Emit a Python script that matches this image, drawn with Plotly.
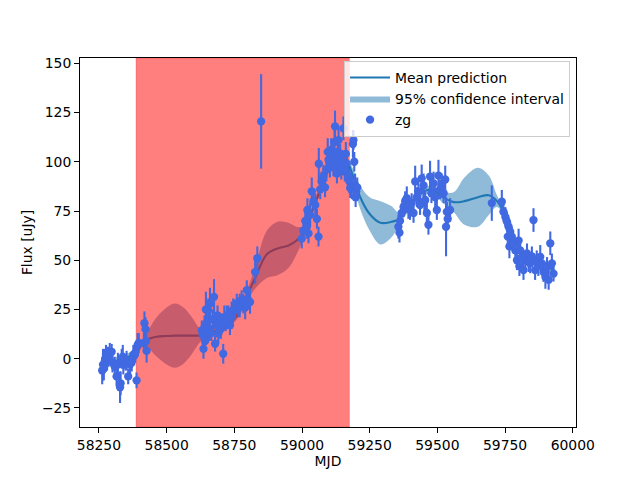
import plotly.graph_objects as go

# ---------------- data ----------------
obs_mjd = [58262, 58265, 58268, 58272, 58276, 58280, 58284, 58290, 58297, 58300,
           58308, 58315, 58320, 58328, 58330, 58334, 58338, 58340, 58348, 58352,
           58358, 58365, 58371, 58377, 58380, 58384, 58389, 58393, 58397, 58416,
           58418, 58422, 58424, 58426,
           58630, 58633, 58636, 58640, 58642, 58645, 58648, 58652, 58654, 58658,
           58660, 58665, 58670, 58675, 58679, 58684, 58688, 58691, 58695, 58700,
           58703, 58709, 58713, 58718, 58722, 58728, 58734, 58740, 58746, 58752,
           58759, 58765, 58770, 58777, 58783, 58790, 58796, 58800, 58808, 58827,
           58835, 58849,
           58999, 59005, 59012, 59018, 59020, 59024, 59030, 59036, 59042, 59049,
           59055, 59061, 59062, 59067, 59072, 59079, 59085, 59090, 59095, 59098,
           59103, 59108, 59112, 59116, 59120, 59122, 59126, 59129, 59132, 59135,
           59138, 59141, 59145, 59148, 59153, 59158, 59162, 59165, 59170, 59175,
           59178, 59184, 59188, 59190, 59193, 59196, 59198, 59200, 59204,
           59356, 59360, 59362, 59368, 59375, 59381, 59387, 59393, 59399, 59405,
           59412, 59418, 59424, 59430, 59436, 59442, 59449, 59452, 59455, 59461,
           59467, 59473, 59478, 59486, 59492, 59498, 59504, 59510, 59516, 59523,
           59529, 59532, 59535, 59538, 59547,
           59701, 59738, 59744, 59751, 59757, 59760, 59763, 59766, 59769, 59775,
           59781, 59788, 59794, 59800, 59803, 59806, 59812, 59818, 59825, 59831,
           59837, 59843, 59849, 59855, 59861, 59867, 59873, 59880, 59886, 59892,
           59899, 59905, 59911, 59917, 59923, 59929]
obs_flux = [-6, -3, -5, -1, 2, 0, 1, 3, 3.5, -2,
            -4, -9, -3, -14.5, -12.5, 0, 1, -3, -2, -1,
            -9, -3, -1.5, 2, 1.5, 3, -11, 7, 8, 8,
            18, 15, 9, 4,
            14.4, 12, 5, 16, 9, 25, 18, 13, 24.6, 15,
            28, 13, 20, 31.4, 7.6, 17, 22, 12.7, 18, 15,
            18, 2.5, 21, 19, 21, 22, 17, 24, 24.6, 25,
            28, 26, 27, 29.7, 28, 26, 34.8, 30, 28.8, 44,
            51, 120.5,
            61, 65, 70, 67, 75.5, 63.6, 73, 85, 80, 78,
            71, 62, 99, 86, 90, 92.5, 87, 96, 105, 101,
            97, 106, 102, 97.6, 110, 118, 100, 94, 105, 111,
            98, 103, 96, 100, 117, 95, 104, 99, 93, 90,
            86.6, 87, 109, 111, 100, 88, 82, 85, 87,
            67, 64, 70, 74, 77, 80, 81.5, 76, 75.5, 79,
            74, 90, 82, 85, 78, 91.6, 88, 80, 80.6, 74,
            68, 92.5, 84, 89, 82, 75.5, 93, 86, 88, 84,
            91, 67, 74.6, 71, 75.5,
            79, 79.7, 74.6, 72, 69.6, 62, 67, 57, 64.5, 62,
            58.6, 55, 50, 60, 47, 55, 51.7, 45, 50, 53.5,
            49, 48.4, 52, 70.4, 45, 50, 47, 51.7, 48.4, 44,
            41.5, 46.6, 40, 58.6, 48.4, 43.2]
obs_err = [7, 8, 6, 6, 5, 6, 5, 5, 4, 5,
           5, 5, 6, 8, 6, 5, 6, 5, 4, 5,
           4, 5, 5, 5, 5, 5, 4, 6, 5, 5,
           6, 6, 6, 6,
           5, 5, 5, 6, 5, 9, 5, 5, 6, 6,
           8, 4, 5, 9, 4, 6, 5, 5, 4, 5,
           5, 5, 6, 5, 6, 5, 5, 5, 6, 5,
           5, 5, 6, 5, 5, 6, 5, 5, 6, 6,
           6, 24,
           5, 5, 5, 6, 6, 5, 6, 7, 5, 6,
           5, 5, 8, 5, 5, 6, 5, 6, 7, 6,
           5, 6, 5, 5, 7, 8, 5, 5, 6, 7,
           5, 6, 5, 6, 6, 5, 6, 5, 5, 6,
           5, 6, 7, 5, 5, 6, 5, 5, 5,
           6, 5, 5, 5, 5, 5, 6, 5, 5, 5,
           5, 8, 5, 6, 5, 7, 6, 5, 5, 5,
           5, 8, 5, 6, 5, 5, 8, 5, 6, 5,
           7, 15, 5, 5, 6,
           9, 6, 5, 5, 5, 6, 5, 6, 5, 5,
           5, 5, 5, 6, 5, 5, 5, 5, 5, 5,
           5, 5, 5, 6, 5, 5, 5, 6, 5, 5,
           6, 5, 5, 6, 5, 4]

gp_mjd = [58260, 58300, 58340, 58380, 58420, 58460, 58500, 58530, 58560, 58590,
          58620, 58640, 58680, 58720, 58760, 58800, 58830, 58870, 58910, 58950,
          58980, 59010, 59040, 59080, 59120, 59150, 59180, 59215, 59250, 59290,
          59330, 59360, 59400, 59440, 59480, 59520, 59560, 59600, 59650, 59690,
          59720, 59750, 59780, 59820, 59860, 59900, 59930]
gp_mean = [-3, -1.5, 0, 2.5, 9, 11, 11.5, 11.7, 11.7, 11.7,
           11.8, 12.5, 14, 17, 22, 33, 42, 53, 56, 57.5,
           60, 65, 76, 90, 103, 104, 96, 82, 73.5, 69,
           69.5, 71, 78, 84, 86, 82, 79.5, 80, 82, 83,
           80, 73, 62, 53, 50, 47, 45]
gp_half = [3, 2, 2, 2, 2.5, 9.5, 14.5, 16.3, 14.5, 10,
           4, 2, 2, 2, 2, 3, 6, 12, 13.6, 11.5,
           7, 2.5, 2, 2, 2, 2, 3, 6, 8.5, 11,
           8, 3, 2, 2, 2, 3, 5, 12, 15, 10,
           3, 2, 2, 2, 2, 2, 2]

span_mjd = [58387, 59175]
x_range = [58180, 60012]
y_range = [-34.7, 152.7]
x_ticks = [58250, 58500, 58750, 59000, 59250, 59500, 59750, 60000]
y_ticks = [-25, 0, 25, 50, 75, 100, 125, 150]

# ---------------- figure ----------------
FS = 13.9
gp_upper = [m + h for m, h in zip(gp_mean, gp_half)]
gp_lower = [m - h for m, h in zip(gp_mean, gp_half)]

fig = go.Figure()

fig.add_trace(go.Scatter(
    x=gp_mjd + gp_mjd[::-1], y=gp_upper + gp_lower[::-1],
    fill="toself", fillcolor="rgba(31,119,180,0.5)", line=dict(width=0, shape="spline"),
    mode="lines", name="95% confidence interval", legendrank=2, hoverinfo="skip"))

fig.add_trace(go.Scatter(
    x=gp_mjd, y=gp_mean, mode="lines", line=dict(color="#1f77b4", width=2.1, shape="spline"),
    name="Mean prediction", legendrank=1))

fig.add_trace(go.Scatter(
    x=[span_mjd[0], span_mjd[1], span_mjd[1], span_mjd[0], span_mjd[0]],
    y=[y_range[0], y_range[0], y_range[1], y_range[1], y_range[0]],
    fill="toself", fillcolor="rgba(255,0,0,0.5)", mode="lines",
    line=dict(width=1, color="rgba(255,0,0,0.25)"), showlegend=False, hoverinfo="skip"))

fig.add_trace(go.Scatter(
    x=obs_mjd, y=obs_flux, mode="markers", name="zg", legendrank=3,
    marker=dict(color="royalblue", size=8.3),
    error_y=dict(type="data", array=obs_err, color="royalblue", thickness=2.1, width=0)))

axis_common = dict(showline=True, linecolor="black", linewidth=1, mirror=True,
                   ticks="outside", ticklen=5, tickcolor="black", showgrid=False,
                   zeroline=False, tickformat="d", tickfont=dict(size=FS, color="black"))

fig.update_layout(
    width=640, height=480,
    margin=dict(l=72, r=72, t=50, b=61),
    paper_bgcolor="white", plot_bgcolor="white",
    font=dict(family="DejaVu Sans", size=FS, color="black"),
    showlegend=True,
    legend=dict(x=0.988, y=0.992, xanchor="right", yanchor="top",
                bgcolor="rgba(255,255,255,0.8)", bordercolor="#cccccc", borderwidth=1,
                font=dict(size=FS), itemwidth=40, tracegroupgap=0),
    xaxis=dict(range=x_range, tickvals=x_ticks,
               title=dict(text="MJD", standoff=4, font=dict(size=FS)), **axis_common),
    yaxis=dict(range=y_range, tickvals=y_ticks,
               title=dict(text="Flux [uJy]", standoff=6, font=dict(size=FS)), **axis_common),
)

fig.write_html("out.html")
